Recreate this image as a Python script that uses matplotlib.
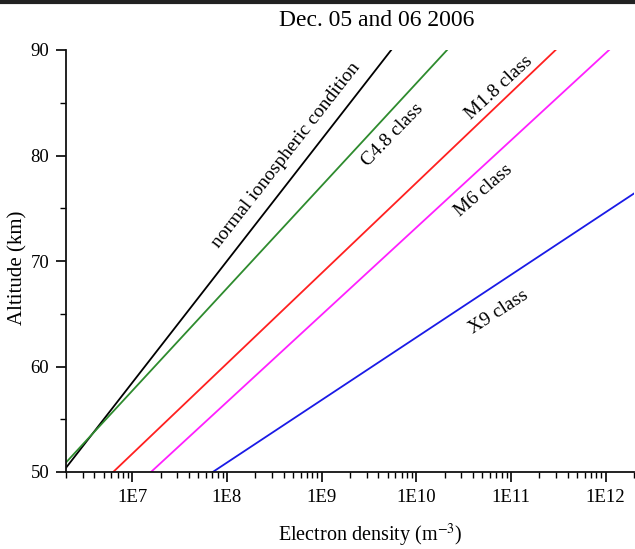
import numpy as np
import matplotlib.pyplot as plt
from matplotlib.ticker import LogLocator, FixedLocator, NullFormatter
from matplotlib.lines import Line2D

plt.rcParams['font.family'] = ['Liberation Serif', 'DejaVu Serif']
plt.rcParams['mathtext.fontset'] = 'stix'

# end points of each profile (density in m^-3, altitude in km)
names = ["normal ionospheric condition", "C4.8 class", "M1.8 class", "M6 class", "X9 class"]
colors = ["black", "#2e8b2e", "#ff2020", "#ff20ff", "#1a1ae6"]
dens_low = [2.0e6, 2.0e6, 6.3e6, 1.58e7, 7.1e7]
alt_low = [50.4, 50.9, 50.0, 50.0, 50.0]
dens_high = [5.45e9, 2.12e10, 2.97e11, 1.09e12, 2.0e12]
alt_high = [90.0, 90.0, 90.0, 90.0, 76.4]

# label placement
lab_x = [4.2e8, 5.6e9, 7.5e10, 5.1e10, 7.5e10]
lab_y = [80.0, 81.9, 86.4, 76.7, 65.2]
lab_rot = [52, 46, 43, 41, 33]

fig = plt.figure(figsize=(6.35, 5.49), dpi=100)
ax = fig.add_axes([66 / 635, 1 - 472 / 549, 568 / 635, 422 / 549])

for i in range(len(names)):
    ax.plot([dens_low[i], dens_high[i]], [alt_low[i], alt_high[i]],
            color=colors[i], lw=1.3)
    ax.text(lab_x[i], lab_y[i], names[i], rotation=lab_rot[i],
            ha='center', va='center', fontsize=14, rotation_mode='anchor')

ax.set_xscale('log')
ax.set_xlim(2e6, 2e12)
ax.set_ylim(50, 90)

ax.xaxis.set_major_locator(FixedLocator([1e7, 1e8, 1e9, 1e10, 1e11, 1e12]))
ax.set_xticklabels(["1E7", "1E8", "1E9", "1E10", "1E11", "1E12"])
ax.xaxis.set_minor_locator(LogLocator(base=10, subs=np.arange(2, 10)))
ax.xaxis.set_minor_formatter(NullFormatter())
ax.set_yticks([50, 60, 70, 80, 90])
ax.yaxis.set_minor_locator(FixedLocator([55, 65, 75, 85]))

ax.tick_params(which='major', direction='out', length=7, width=1.2, labelsize=13.5, pad=5)
ax.tick_params(which='minor', direction='out', length=4, width=1.0)

ax.spines['top'].set_visible(False)
ax.spines['right'].set_visible(False)
ax.spines['left'].set_linewidth(1.3)
ax.spines['bottom'].set_linewidth(1.3)
ax.spines['bottom'].set_color('#111111')
ax.spines['left'].set_color('#111111')

fig.text(377 / 635, 1 - 20 / 549, "Dec. 05 and 06 2006", ha='center', va='center', fontsize=17)
fig.text(370 / 635, 1 - 535 / 549, "Electron density (m$^{-3}$)", ha='center', va='center', fontsize=14.5)
fig.text(18 / 635, 1 - 268 / 549, "Altitude (km)", ha='center', va='center', fontsize=15, rotation=90)

# dark frame line at top of the picture
fig.add_artist(Line2D([0, 1], [0.997, 0.997], transform=fig.transFigure, color='#222222', lw=3))

fig.savefig("out.png", dpi=100)
